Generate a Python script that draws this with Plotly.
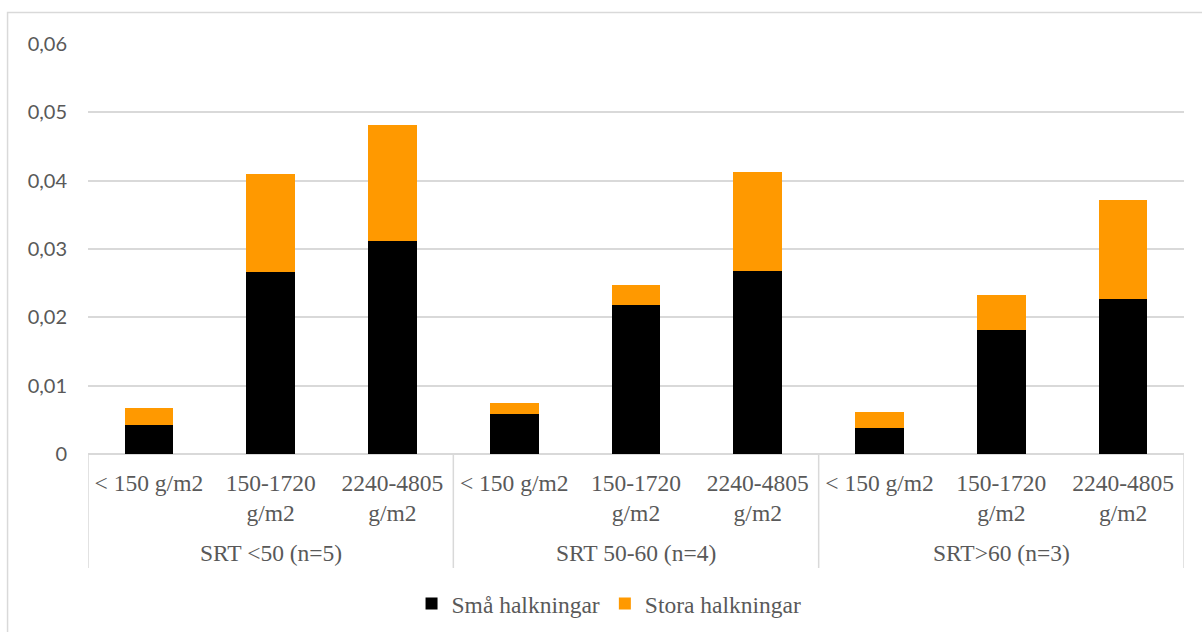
import plotly.graph_objects as go

groups = ["SRT <50 (n=5)", "SRT 50-60 (n=4)", "SRT>60 (n=3)"]
sizes = ["< 150 g/m2", "150-1720<br>g/m2", "2240-4805<br>g/m2"]
sma = [0.0042, 0.0266, 0.0311, 0.0059, 0.0218, 0.0268, 0.0038, 0.0182, 0.0227]
stora = [0.0026, 0.0144, 0.0170, 0.0015, 0.0029, 0.0144, 0.0024, 0.0050, 0.0144]
yticks = [0, 0.01, 0.02, 0.03, 0.04, 0.05, 0.06]

n_s = len(sizes)
xpos = list(range(len(groups) * n_s))
xlabels = [s for _ in groups for s in sizes]

fig = go.Figure()
fig.add_trace(go.Bar(x=xpos, y=sma, name="Små halkningar", marker_color="#000000",
                     marker_line_width=0))
fig.add_trace(go.Bar(x=xpos, y=stora, name="Stora halkningar", marker_color="#FF9900",
                     marker_line_width=0))

font = dict(family="Liberation Serif, Times New Roman, serif", size=23.5, color="#595959")
grid = "#d9d9d9"

# group labels and dividers of the two-level category axis
annotations = []
shapes = []
for gi, g in enumerate(groups):
    annotations.append(dict(text=g, x=gi * n_s + (n_s - 1) / 2, xref="x", y=-0.2415, yref="paper",
                            xanchor="center", yanchor="middle", showarrow=False, font=font))
for b in range(len(groups) + 1):
    shapes.append(dict(type="line", xref="x", yref="paper", x0=b * n_s - 0.5, x1=b * n_s - 0.5,
                       y0=0, y1=-0.278, line=dict(color=grid, width=1.5)))
shapes.append(dict(type="rect", xref="paper", yref="paper", x0=-0.0734, x1=1.03,
                   y0=-0.46, y1=1.0768, line=dict(color=grid, width=1.5),
                   fillcolor="rgba(0,0,0,0)", layer="below"))

fig.update_layout(
    barmode="stack",
    bargap=0.6,
    width=1202, height=632,
    margin=dict(l=88, r=18, t=44, b=178, autoexpand=False),
    paper_bgcolor="white", plot_bgcolor="white",
    font=font,
    separators=", ",
    showlegend=True,
    legend=dict(orientation="h", x=0.4754, xanchor="center", y=-0.365, yanchor="middle",
                font=font, traceorder="normal"),
    xaxis=dict(range=[-0.5, len(xpos) - 0.5], tickvals=xpos, ticktext=xlabels,
               showgrid=False, showline=False, zeroline=False,
               tickfont=font, ticks="", ticklabelstandoff=12),
    yaxis=dict(range=[0, 0.06], tickvals=yticks, showgrid=True, gridcolor=grid,
               gridwidth=1.5, zeroline=True, zerolinecolor=grid, zerolinewidth=1.5,
               showline=False, tickfont=dict(family="Lato, Carlito, sans-serif", size=20, color="#595959"),
               ticklabelstandoff=20),
    annotations=annotations,
    shapes=shapes,
)

fig.write_html("out.html")
